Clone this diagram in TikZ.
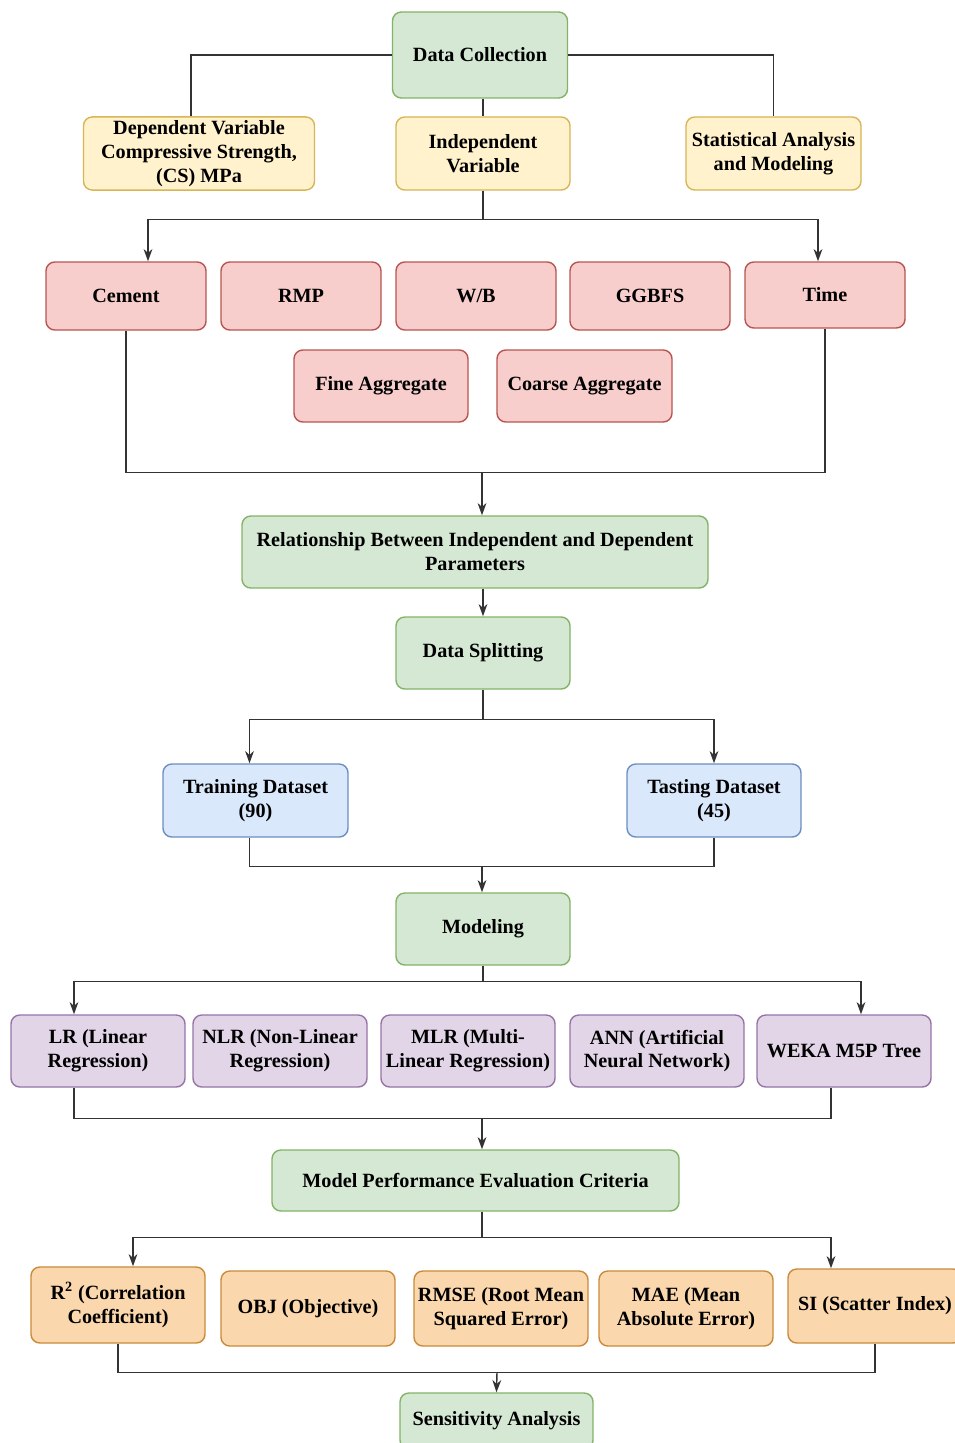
\documentclass[tikz,border=0pt]{standalone}
\usepackage{fontspec}
\setmainfont{Liberation Serif}
\usetikzlibrary{arrows.meta,calc}

\definecolor{greenfill}{HTML}{D5E8D4}\definecolor{greenline}{HTML}{82B366}
\definecolor{yellowfill}{HTML}{FFF2CC}\definecolor{yellowline}{HTML}{D6B656}
\definecolor{redfill}{HTML}{F8CECC}\definecolor{redline}{HTML}{B85450}
\definecolor{bluefill}{HTML}{DAE8FC}\definecolor{blueline}{HTML}{6C8EBF}
\definecolor{purplefill}{HTML}{E1D5E7}\definecolor{purpleline}{HTML}{9673A6}
\definecolor{orangefill}{HTML}{FAD7AC}\definecolor{orangeline}{HTML}{C98A3A}
\definecolor{wire}{HTML}{333333}

\tikzset{
  box/.style={draw, rounded corners=5pt, line width=0.8pt, align=center, inner sep=2pt,
    font=\fontsize{11.5}{13.6}\selectfont\bfseries},
  wh/.style 2 args={minimum width=#1*0.02cm, minimum height=#2*0.02cm},
  greenbox/.style={box, fill=greenfill, draw=greenline},
  yellowbox/.style={box, fill=yellowfill, draw=yellowline},
  redbox/.style={box, fill=redfill, draw=redline},
  bluebox/.style={box, fill=bluefill, draw=blueline},
  purplebox/.style={box, fill=purplefill, draw=purpleline},
  orangebox/.style={box, fill=orangefill, draw=orangeline},
  wireline/.style={draw=wire, line width=0.8pt},
  arr/.style={wireline, -{Stealth[length=7pt,width=5pt]}}
}

\begin{document}
\begin{tikzpicture}[x=0.02cm, y=-0.02cm]
    \useasboundingbox (0,0) rectangle (955,1443);

    % data collection stage
    \node[greenbox, wh={175}{86}] (collect) at (480,55) {Data Collection};
    \node[yellowbox, wh={231}{73}] (dep) at (199,153.5) {Dependent Variable\\Compressive Strength,\\(CS) MPa};
    \node[yellowbox, wh={174}{73}] (indep) at (483,153.5) {Independent\\Variable};
    \node[yellowbox, wh={175}{73}] (stat) at (773.5,153.5) {Statistical Analysis\\and Modeling};

    % independent parameters
    \node[redbox, wh={160}{68}] (cement) at (126,296) {Cement};
    \node[redbox, wh={160}{68}] (rmp) at (301,296) {RMP};
    \node[redbox, wh={160}{68}] (wb) at (476,296) {W/B};
    \node[redbox, wh={160}{68}] (ggbfs) at (650,296) {GGBFS};
    \node[redbox, wh={160}{66}] (time) at (825,295) {Time};
    \node[redbox, wh={174}{72}] (fine) at (381,386) {Fine Aggregate};
    \node[redbox, wh={175}{72}] (coarse) at (584.5,386) {Coarse Aggregate};

    \node[greenbox, wh={466}{72}] (relation) at (475,552) {Relationship Between Independent and Dependent\\Parameters};
    \node[greenbox, wh={174}{72}] (split) at (483,653) {Data Splitting};
    \node[bluebox, wh={185}{73}] (train) at (255.5,800.5) {Training Dataset\\(90)};
    \node[bluebox, wh={174}{73}] (test) at (714,800.5) {Tasting Dataset\\(45)};
    \node[greenbox, wh={174}{72}] (model) at (483,929) {Modeling};

    % models
    \node[purplebox, wh={174}{72}] (lr) at (98,1051) {LR (Linear\\Regression)};
    \node[purplebox, wh={174}{72}] (nlr) at (280,1051) {NLR (Non-Linear\\Regression)};
    \node[purplebox, wh={174}{72}] (mlr) at (468,1051) {MLR (Multi-\\Linear Regression)};
    \node[purplebox, wh={174}{72}] (ann) at (657,1051) {ANN (Artificial\\Neural Network)};
    \node[purplebox, wh={174}{72}] (weka) at (844,1051) {WEKA M5P Tree};

    \node[greenbox, wh={407}{61}] (perf) at (475.5,1180.5) {Model Performance Evaluation Criteria};

    % criteria
    \node[orangebox, wh={174}{76}] (r2) at (118,1305) {R\textsuperscript{2} (Correlation\\Coefficient)};
    \node[orangebox, wh={174}{75}] (obj) at (308,1308.5) {OBJ (Objective)};
    \node[orangebox, wh={174}{75}] (rmse) at (501,1308.5) {RMSE (Root Mean\\Squared Error)};
    \node[orangebox, wh={174}{75}] (mae) at (686,1308.5) {MAE (Mean\\Absolute Error)};
    \node[orangebox, wh={174}{74}] (si) at (875,1306) {SI (Scatter Index)};

    \node[greenbox, wh={193}{56}] (sens) at (496.5,1421) {Sensitivity Analysis};

    % connectors
    \draw[wireline] (collect.west) -| ($(dep.north)+(-8,0)$);
    \draw[wireline] (collect.east) -| (stat.north);
    \draw[wireline] (indep.north |- collect.south) -- (indep.north);

    \draw[arr] (indep.south) -- ++(0,29) -| ($(cement.north)+(22,0)$);
    \draw[arr] (indep.south) -- ++(0,29) -| ($(time.north)+(-7,0)$);

    \coordinate (join1) at (482,472);
    \draw[wireline] (cement.south) -- ++(0,142) -| (time.south);
    \draw[arr] (join1) -- (join1 |- relation.north);

    \draw[arr] (split.north |- relation.south) -- (split.north);
    \draw[arr] (split.south) -- ++(0,30) -| ($(train.north)+(-6,0)$);
    \draw[arr] (split.south) -- ++(0,30) -| (test.north);

    \coordinate (join2) at (482,866);
    \draw[wireline] ($(train.south)+(-6,0)$) -- ++(0,29) -| (test.south);
    \draw[arr] (join2) -- (join2 |- model.north);

    \draw[arr] (model.south) -- ++(0,16) -| ($(lr.north)+(-24,0)$);
    \draw[arr] (model.south) -- ++(0,16) -| ($(weka.north)+(17,0)$);

    \coordinate (join3) at (482,1118);
    \draw[wireline] ($(lr.south)+(-24,0)$) -- ++(0,31) -| ($(weka.south)+(-13,0)$);
    \draw[arr] (join3) -- (join3 |- perf.north);

    \draw[arr] ($(perf.south)+(6.5,0)$) -- ++(0,26) -| ($(r2.north)+(15,0)$);
    \draw[arr] ($(perf.south)+(6.5,0)$) -- ++(0,26) -| ($(si.north)+(-44,0)$);

    \coordinate (join4) at (497,1372);
    \draw[wireline] (r2.south) -- ++(0,29) -| (si.south);
    \draw[arr] (join4) -- (sens.north);
\end{tikzpicture}
\end{document}
